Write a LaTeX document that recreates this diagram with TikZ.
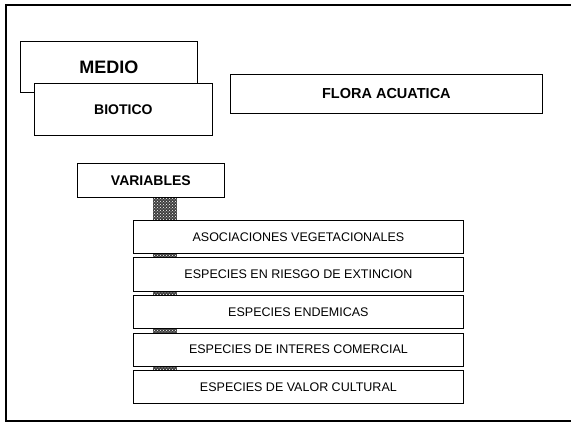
\documentclass[tikz,border=0pt]{standalone}
\usepackage{fontspec}
\setmainfont{Liberation Sans}
\usetikzlibrary{patterns}
\begin{document}
\begin{tikzpicture}[x=1pt,y=-1pt,
  box/.style={draw=black, line width=0.8pt, fill=white, inner sep=0pt, anchor=north west},
  itembox/.style={box, minimum width=330pt, minimum height=33pt, font=\fontsize{12.5}{14}\selectfont},
  frameline/.style={line width=1.4pt}]
\useasboundingbox (0,0) rectangle (571,425);
% frame
\draw[frameline] (571,5) -- (6,5) -- (6,421) -- (571,421);
% hatched connector behind list
\fill[black!75] (153,197) rectangle (177,370);
\fill[pattern=crosshatch dots, pattern color=white] (153,197) rectangle (177,370);
% boxes
\node[box, minimum width=177pt, minimum height=51pt, font=\fontsize{18}{20}\selectfont\bfseries] (medio) at (20,41) {MEDIO};
\node[box, minimum width=178pt, minimum height=52pt, font=\fontsize{14}{16}\selectfont\bfseries] (biotico) at (34,83) {BIOTICO};
\node[box, minimum width=312pt, minimum height=39pt, font=\fontsize{14.5}{16}\selectfont\bfseries] (flora) at (230,74) {FLORA ACUATICA};
\node[box, minimum width=147pt, minimum height=34pt, font=\fontsize{14}{16}\selectfont\bfseries] (variables) at (77,163) {VARIABLES};
\node[itembox] (asoc) at (133,220) {ASOCIACIONES VEGETACIONALES};
\node[itembox] (riesgo) at (133,257.5) {ESPECIES EN RIESGO DE EXTINCION};
\node[itembox] (endem) at (133,295) {ESPECIES ENDEMICAS};
\node[itembox] (comer) at (133,332.5) {ESPECIES DE INTERES COMERCIAL};
\node[itembox] (cult) at (133,370) {ESPECIES DE VALOR CULTURAL};
\end{tikzpicture}
\end{document}
